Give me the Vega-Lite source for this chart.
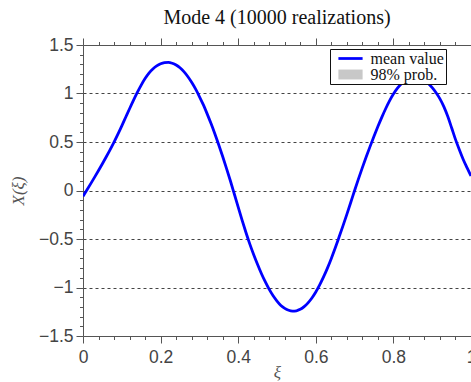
{
  "$schema": "https://vega.github.io/schema/vega-lite/v6.json",
  "width": 388,
  "height": 291,
  "autosize": {"type": "none"},
  "padding": {"left": 83, "top": 45, "right": 0, "bottom": 46},
  "background": "white",
  "title": {"text": "Mode 4 (10000 realizations)", "font": "Liberation Serif", "fontSize": 20, "fontWeight": "normal", "color": "#111", "anchor": "middle", "offset": 10, "dy": 18, "baseline": "alphabetic"},
  "config": {"view": {"stroke": null}},
  "data": {"values": [
    {"t":0.00,"v":-0.06},{"t":0.01,"v":0.005},{"t":0.02,"v":0.071},{"t":0.03,"v":0.138},{"t":0.04,"v":0.206},
    {"t":0.05,"v":0.276},{"t":0.06,"v":0.348},{"t":0.07,"v":0.422},{"t":0.08,"v":0.499},{"t":0.09,"v":0.581},
    {"t":0.10,"v":0.667},{"t":0.11,"v":0.755},{"t":0.12,"v":0.843},{"t":0.13,"v":0.929},{"t":0.14,"v":1.011},
    {"t":0.15,"v":1.087},{"t":0.16,"v":1.154},{"t":0.17,"v":1.21},{"t":0.18,"v":1.252},{"t":0.19,"v":1.284},
    {"t":0.20,"v":1.306},{"t":0.21,"v":1.318},{"t":0.22,"v":1.321},{"t":0.23,"v":1.312},{"t":0.24,"v":1.294},
    {"t":0.25,"v":1.265},{"t":0.26,"v":1.225},{"t":0.27,"v":1.175},{"t":0.28,"v":1.115},{"t":0.29,"v":1.047},
    {"t":0.30,"v":0.969},{"t":0.31,"v":0.885},{"t":0.32,"v":0.79},{"t":0.33,"v":0.69},{"t":0.34,"v":0.583},
    {"t":0.35,"v":0.469},{"t":0.36,"v":0.35},{"t":0.37,"v":0.226},{"t":0.38,"v":0.098},{"t":0.39,"v":-0.036},
    {"t":0.40,"v":-0.172},{"t":0.41,"v":-0.305},{"t":0.42,"v":-0.433},{"t":0.43,"v":-0.553},{"t":0.44,"v":-0.662},
    {"t":0.45,"v":-0.763},{"t":0.46,"v":-0.858},{"t":0.47,"v":-0.943},{"t":0.48,"v":-1.02},{"t":0.49,"v":-1.086},
    {"t":0.50,"v":-1.14},{"t":0.51,"v":-1.185},{"t":0.52,"v":-1.215},{"t":0.53,"v":-1.235},{"t":0.54,"v":-1.243},
    {"t":0.55,"v":-1.24},{"t":0.56,"v":-1.225},{"t":0.57,"v":-1.197},{"t":0.58,"v":-1.158},{"t":0.59,"v":-1.108},
    {"t":0.60,"v":-1.046},{"t":0.61,"v":-0.973},{"t":0.62,"v":-0.891},{"t":0.63,"v":-0.80},{"t":0.64,"v":-0.70},
    {"t":0.65,"v":-0.593},{"t":0.66,"v":-0.48},{"t":0.67,"v":-0.365},{"t":0.68,"v":-0.246},{"t":0.69,"v":-0.124},
    {"t":0.70,"v":0.0},{"t":0.71,"v":0.12},{"t":0.72,"v":0.236},{"t":0.73,"v":0.347},{"t":0.74,"v":0.455},
    {"t":0.75,"v":0.559},{"t":0.76,"v":0.659},{"t":0.77,"v":0.754},{"t":0.78,"v":0.843},{"t":0.79,"v":0.924},
    {"t":0.80,"v":0.994},{"t":0.81,"v":1.052},{"t":0.82,"v":1.098},{"t":0.83,"v":1.132},{"t":0.84,"v":1.155},
    {"t":0.85,"v":1.168},{"t":0.86,"v":1.17},{"t":0.87,"v":1.16},{"t":0.88,"v":1.137},{"t":0.89,"v":1.103},
    {"t":0.90,"v":1.06},{"t":0.91,"v":1.008},{"t":0.92,"v":0.945},{"t":0.93,"v":0.865},{"t":0.94,"v":0.765},
    {"t":0.95,"v":0.647},{"t":0.96,"v":0.527},{"t":0.97,"v":0.42},{"t":0.98,"v":0.32},{"t":0.99,"v":0.233},
    {"t":1.00,"v":0.15}
  ]},
  "transform": [{"calculate": "'mean value'", "as": "series"}],
  "resolve": {"axis": {"x": "independent"}},
  "layer": [
    {
      "mark": {"type": "line", "strokeWidth": 2.8, "interpolate": "monotone", "clip": true},
      "encoding": {
        "x": {"field": "t", "type": "quantitative",
          "scale": {"domain": [0, 1], "nice": false, "zero": false},
          "axis": {"orient": "bottom", "title": "ξ", "titleFont": "Liberation Serif", "titleFontStyle": "italic", "titleFontWeight": "normal", "titleFontSize": 17, "titleColor": "#555",
            "titleX": 194, "titleY": 36, "titleBaseline": "middle",
            "values": [0,0.04,0.08,0.12,0.16,0.2,0.24,0.28,0.32,0.36,0.4,0.44,0.48,0.52,0.56,0.6,0.64,0.68,0.72,0.76,0.8,0.84,0.88,0.92,0.96,1],
            "format": "~g",
            "labelExpr": "abs(datum.value*5 - round(datum.value*5)) < 0.001 ? datum.label : ''",
            "labelFont": "Liberation Sans", "labelFontSize": 17.5, "labelColor": "#444", "labelPadding": 5, "labelFlush": false, "labelOverlap": false,
            "tickSize": {"condition": {"test": "abs(datum.value*5 - round(datum.value*5)) < 0.001", "value": 7}, "value": 3.5},
            "tickColor": "#555", "tickWidth": 1, "domainColor": "#555", "domainWidth": 1, "grid": false}},
        "y": {"field": "v", "type": "quantitative",
          "scale": {"domain": [-1.5, 1.5], "nice": false, "zero": false},
          "axis": {"title": "X(ξ)", "titleFont": "Liberation Serif", "titleFontStyle": "italic", "titleFontWeight": "normal", "titleFontSize": 17, "titleColor": "#555",
            "titleX": -65, "titleY": 145.5, "titleAngle": -90, "titleBaseline": "middle", "titleAlign": "center",
            "values": [-1.5,-1.4,-1.3,-1.2,-1.1,-1,-0.9,-0.8,-0.7,-0.6,-0.5,-0.4,-0.3,-0.2,-0.1,0,0.1,0.2,0.3,0.4,0.5,0.6,0.7,0.8,0.9,1,1.1,1.2,1.3,1.4,1.5],
            "format": "~g",
            "labelExpr": "abs(datum.value*2 - round(datum.value*2)) < 0.001 ? datum.label : ''",
            "labelFont": "Liberation Sans", "labelFontSize": 17.5, "labelColor": "#444", "labelPadding": 3, "labelFlush": false, "labelOverlap": false,
            "tickSize": {"condition": {"test": "abs(datum.value*2 - round(datum.value*2)) < 0.001", "value": 7}, "value": 3.5},
            "tickColor": "#555", "tickWidth": 1, "domainColor": "#555", "domainWidth": 1,
            "grid": true, "gridColor": "#444", "gridDash": [3, 3], "gridWidth": 1,
            "gridOpacity": {"condition": {"test": "abs(datum.value) < 1.4 && abs(datum.value*2 - round(datum.value*2)) < 0.001", "value": 1}, "value": 0}}},
        "color": {"field": "series", "type": "nominal",
          "scale": {"domain": ["mean value", "98% prob."], "range": ["#0000ff", "#c8c8c8"]},
          "legend": {"title": null, "orient": "none", "legendX": 247, "legendY": 4,
            "fillColor": "white", "strokeColor": "#111", "padding": 1.5,
            "labelFont": "Liberation Serif", "labelFontSize": 16, "labelColor": "#111", "labelOffset": 12,
            "rowPadding": -2.5, "symbolType": "M-2.2,-0.9H2.2V0.9H-2.2Z", "symbolSize": 121, "symbolOffset": 11,
            "encode": {
              "legend": {"update": {"width": {"value": 137}}},
              "symbols": {"update": {
              "shape": {"signal": "datum.value === 'mean value' ? 'M-2.2,-0.25H2.2V0.25H-2.2Z' : 'M-2.2,-0.9H2.2V0.9H-2.2Z'"},
              "fill": {"signal": "datum.value === 'mean value' ? '#0000ff' : '#c8c8c8'"},
              "stroke": {"value": "transparent"},
              "strokeWidth": {"value": 0},
              "opacity": {"value": 1}}}}}}
      }
    },
    {
      "mark": {"type": "point", "opacity": 0},
      "encoding": {
        "x": {"field": "t", "type": "quantitative",
          "axis": {"orient": "top", "title": null, "labels": false,
            "values": [0,0.04,0.08,0.12,0.16,0.2,0.24,0.28,0.32,0.36,0.4,0.44,0.48,0.52,0.56,0.6,0.64,0.68,0.72,0.76,0.8,0.84,0.88,0.92,0.96,1],
            "tickSize": {"condition": {"test": "abs(datum.value*5 - round(datum.value*5)) < 0.001", "value": 7}, "value": 3.5},
            "tickColor": "#555", "tickWidth": 1, "domainColor": "#555", "domainWidth": 1, "grid": false}}
      }
    }
  ]
}
